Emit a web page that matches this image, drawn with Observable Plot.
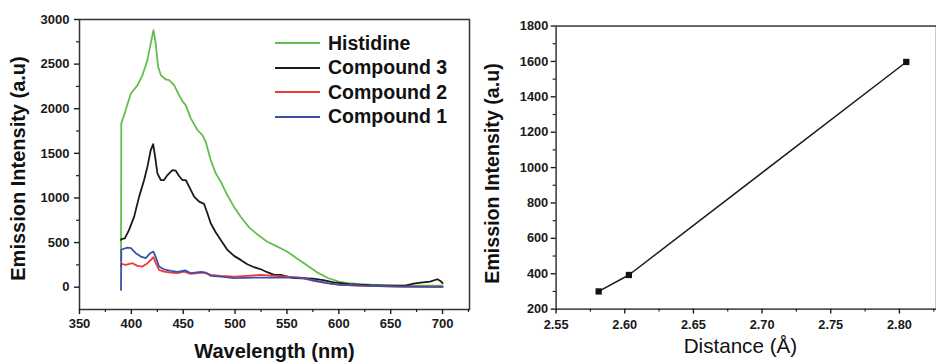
<!DOCTYPE html>
<html><head><meta charset="utf-8">
<script src="https://cdn.jsdelivr.net/npm/d3@7"></script>
<script src="https://cdn.jsdelivr.net/npm/@observablehq/plot@0.6"></script>
<style>
html,body{margin:0;padding:0;background:#fff;overflow:hidden;width:936px;height:363px}
#wrap{position:relative;width:936px;height:363px;overflow:hidden;font-family:"Liberation Sans",Arial,sans-serif}
#left{position:absolute;left:0;top:0}
#right{position:absolute;left:475px;top:0}
#legend{position:absolute;left:275px;top:31px;font-weight:bold;font-size:19.5px;color:#111}
.row{height:24.5px;display:flex;align-items:center;white-space:nowrap}
.sw{width:45px;height:2px;margin-right:8px}
</style></head><body>
<div id="wrap"><div id="left"></div><div id="right"></div><div id="legend"></div></div>
<script>
// ---- Left panel data (emission spectra) ----
const seriesNames = ["Histidine", "Compound 3", "Compound 2", "Compound 1"];
const seriesColors = ["#63bf4d", "#1a1a1a", "#ef3a37", "#3e50a6"];

const histWl = [390, 390.3, 393, 399.5, 406, 410.7, 415.5, 418, 421.3, 423.5, 425.8, 428.4, 433.2, 436.4, 441.2, 446, 449.2, 452.4, 457.3, 463.7, 468.5, 471.7, 476.5, 481.3, 486.2, 492.6, 499, 505.4, 513.5, 521.5, 531.1, 540.8, 550, 560, 570, 580, 590, 600, 610, 620, 640, 660, 680, 700];
const histVal = [300, 1836, 1929, 2171, 2265, 2377, 2545, 2694, 2880, 2731, 2470, 2377, 2328, 2321, 2265, 2153, 2086, 2041, 1892, 1761, 1705, 1630, 1425, 1276, 1183, 1030, 900, 790, 670, 590, 510, 455, 400, 320, 240, 160, 100, 62, 44, 33, 22, 18, 17, 16];

const c3Wl = [390, 390.5, 393.7, 397.8, 402.7, 407.5, 412.3, 415.5, 418.7, 421, 422.9, 425.1, 428.4, 431.5, 434.8, 439.6, 442.8, 446, 449.2, 452.4, 455.7, 460.5, 465.3, 470.1, 473.3, 476.5, 481.3, 486.2, 492.6, 499, 505.4, 511.8, 518.3, 524.7, 531.1, 537.5, 544, 550.4, 556.8, 565, 575, 585, 595, 610, 630, 650, 664, 672, 679, 688, 695, 698, 700];
const c3Val = [530, 540, 548, 642, 791, 1015, 1201, 1351, 1537, 1604, 1463, 1276, 1201, 1201, 1257, 1313, 1306, 1246, 1201, 1201, 1127, 1015, 959, 933, 828, 716, 616, 530, 418, 351, 306, 257, 224, 201, 168, 138, 138, 119, 101, 100, 95, 80, 55, 35, 22, 16, 18, 40, 52, 63, 89, 70, 45];

const c2Wl = [390, 390.3, 394.6, 401, 405.9, 410.7, 415.5, 419.4, 421.3, 423.5, 426.7, 431.5, 438, 444.4, 450.8, 457.3, 463.7, 470.1, 476.5, 486.2, 499, 511.8, 524.7, 537.5, 550.4, 563.2, 576, 588.9, 601.7, 627.5, 659.6, 700];
const c2Val = [230, 260, 250, 269, 239, 231, 269, 313, 336, 269, 194, 175, 164, 157, 175, 149, 157, 164, 138, 127, 119, 127, 138, 127, 119, 108, 71, 45, 26, 15, 7, 5];

const c1Wl = [390, 390.3, 391.4, 396.2, 399.5, 404.3, 409.1, 413.9, 418.1, 421.3, 423.9, 426.7, 431.5, 438, 444.4, 452.4, 457.3, 466.9, 471.7, 476.5, 486.2, 499, 518.3, 537.5, 556.8, 566.5, 576, 588.9, 601.7, 627.5, 660, 700];
const c1Val = [-30, 420, 425, 444, 437, 381, 343, 325, 381, 399, 325, 231, 201, 183, 172, 187, 157, 172, 164, 127, 119, 101, 108, 108, 108, 101, 75, 45, 26, 15, 6, 3];

const leftXTicks = [350, 400, 450, 500, 550, 600, 650, 700];
const leftXMinor = [375, 425, 475, 525, 575, 625, 675, 725];
const leftYTicks = [0, 500, 1000, 1500, 2000, 2500, 3000];
const leftYMinor = [250, 750, 1250, 1750, 2250, 2750];

// ---- Right panel data ----
const distance = [2.581, 2.603, 2.805];
const intensity = [300, 393, 1597];
const rightXTicks = [2.55, 2.60, 2.65, 2.70, 2.75, 2.80];
const rightXMinor = [2.575, 2.625, 2.675, 2.725, 2.775, 2.825];
const rightYTicks = [200, 400, 600, 800, 1000, 1200, 1400, 1600, 1800];
const rightYMinor = [300, 500, 700, 900, 1100, 1300, 1500, 1700];

const toRows = (wl, val, name) => wl.map((w, i) => ({w, v: val[i], name}));
const series = [
  toRows(histWl, histVal, seriesNames[0]),
  toRows(c3Wl, c3Val, seriesNames[1]),
  toRows(c2Wl, c2Val, seriesNames[2]),
  toRows(c1Wl, c1Val, seriesNames[3])
];

const font = "Liberation Sans, Arial, sans-serif";
const plotStyle = {fontFamily: font, fontSize: "13px", fontWeight: "bold", color: "#1a1a1a", background: "white", overflow: "visible"};
const tickText = {fontSize: 13, fontWeight: "bold"};

const left = Plot.plot({
  width: 475, height: 363,
  marginLeft: 79, marginRight: 6, marginTop: 19, marginBottom: 54,
  x: {domain: [350, 726]},
  y: {domain: [-250, 3000]},
  style: plotStyle,
  marks: [
    ...series.map((d, i) => Plot.line(d, {x: "w", y: "v", stroke: seriesColors[i], strokeWidth: 1.8})),
    Plot.frame({stroke: "#333", strokeWidth: 1.5}),
    Plot.axisX(leftXTicks, {...tickText, label: null, tickSize: 5, tickPadding: 4, strokeWidth: 1.4, tickFormat: d => String(d)}),
    Plot.axisX(leftXMinor, {tickSize: 3, tickFormat: () => "", label: null, strokeWidth: 1.2}),
    Plot.axisY(leftYTicks, {...tickText, label: null, tickSize: 5, tickPadding: 5, strokeWidth: 1.4, tickFormat: d => String(d)}),
    Plot.axisY(leftYMinor, {tickSize: 3, tickFormat: () => "", label: null, strokeWidth: 1.2}),
    Plot.text(["Emission Intensity (a.u)"], {text: d => d, frameAnchor: "left", textAnchor: "middle", lineAnchor: "middle", rotate: -90, dx: -61, dy: 4, fontSize: 20, fontWeight: "bold", fill: "#111"}),
    Plot.text(["Wavelength (nm)"], {text: d => d, frameAnchor: "bottom", textAnchor: "middle", lineAnchor: "middle", dy: 42, fontSize: 20, fontWeight: "bold", fill: "#111"})
  ]
});
document.getElementById("left").appendChild(left);

const right = Plot.plot({
  width: 469, height: 363,
  marginLeft: 82, marginRight: 0, marginTop: 26, marginBottom: 49,
  x: {domain: [2.55, 2.827]},
  y: {domain: [200, 1800]},
  style: plotStyle,
  marks: [
    Plot.line(distance.map((d, i) => ({d, v: intensity[i]})), {x: "d", y: "v", stroke: "#1a1a1a", strokeWidth: 1.5}),
    Plot.dot(distance.map((d, i) => ({d, v: intensity[i]})), {x: "d", y: "v", symbol: "square", r: 3.6, fill: "#111"}),
    Plot.frame({stroke: "#333", strokeWidth: 1.5}),
    Plot.axisX(rightXTicks, {...tickText, label: null, tickSize: 5, tickPadding: 6, strokeWidth: 1.4, tickFormat: d3.format(".2f")}),
    Plot.axisX(rightXMinor, {tickSize: 3, tickFormat: () => "", label: null, strokeWidth: 1.2}),
    Plot.axisY(rightYTicks, {...tickText, label: null, tickSize: 5, tickPadding: 3, strokeWidth: 1.4, tickFormat: d => String(d)}),
    Plot.axisY(rightYMinor, {tickSize: 3, tickFormat: () => "", label: null, strokeWidth: 1.2}),
    Plot.text(["Emission Intensity (a.u)"], {text: d => d, frameAnchor: "left", textAnchor: "middle", lineAnchor: "middle", rotate: -90, dx: -65, dy: 6, fontSize: 20, fontWeight: "bold", fill: "#111"}),
    Plot.text(["Distance (Å)"], {text: d => d, frameAnchor: "bottom", textAnchor: "middle", lineAnchor: "middle", dx: -6, dy: 38, fontSize: 21, fontWeight: "normal", fill: "#111"})
  ]
});
document.getElementById("right").appendChild(right);

// force bold tick labels
d3.selectAll("#wrap svg g").filter(function() {
  const a = this.getAttribute("aria-label") || "";
  return a.includes("tick label");
}).each(function() {
  d3.select(this).attr("font-weight", "bold").attr("font-size", 13).style("font-weight", "bold").style("font-size", "13px");
  d3.select(this).selectAll("text").style("font-weight", "bold").style("font-size", "13px");
});

// legend
const legend = document.getElementById("legend");
seriesNames.forEach((n, i) => {
  const row = document.createElement("div");
  row.className = "row";
  const sw = document.createElement("span");
  sw.className = "sw";
  sw.style.background = seriesColors[i];
  const t = document.createElement("span");
  t.textContent = n;
  row.appendChild(sw); row.appendChild(t);
  legend.appendChild(row);
});
</script>
</body></html>
